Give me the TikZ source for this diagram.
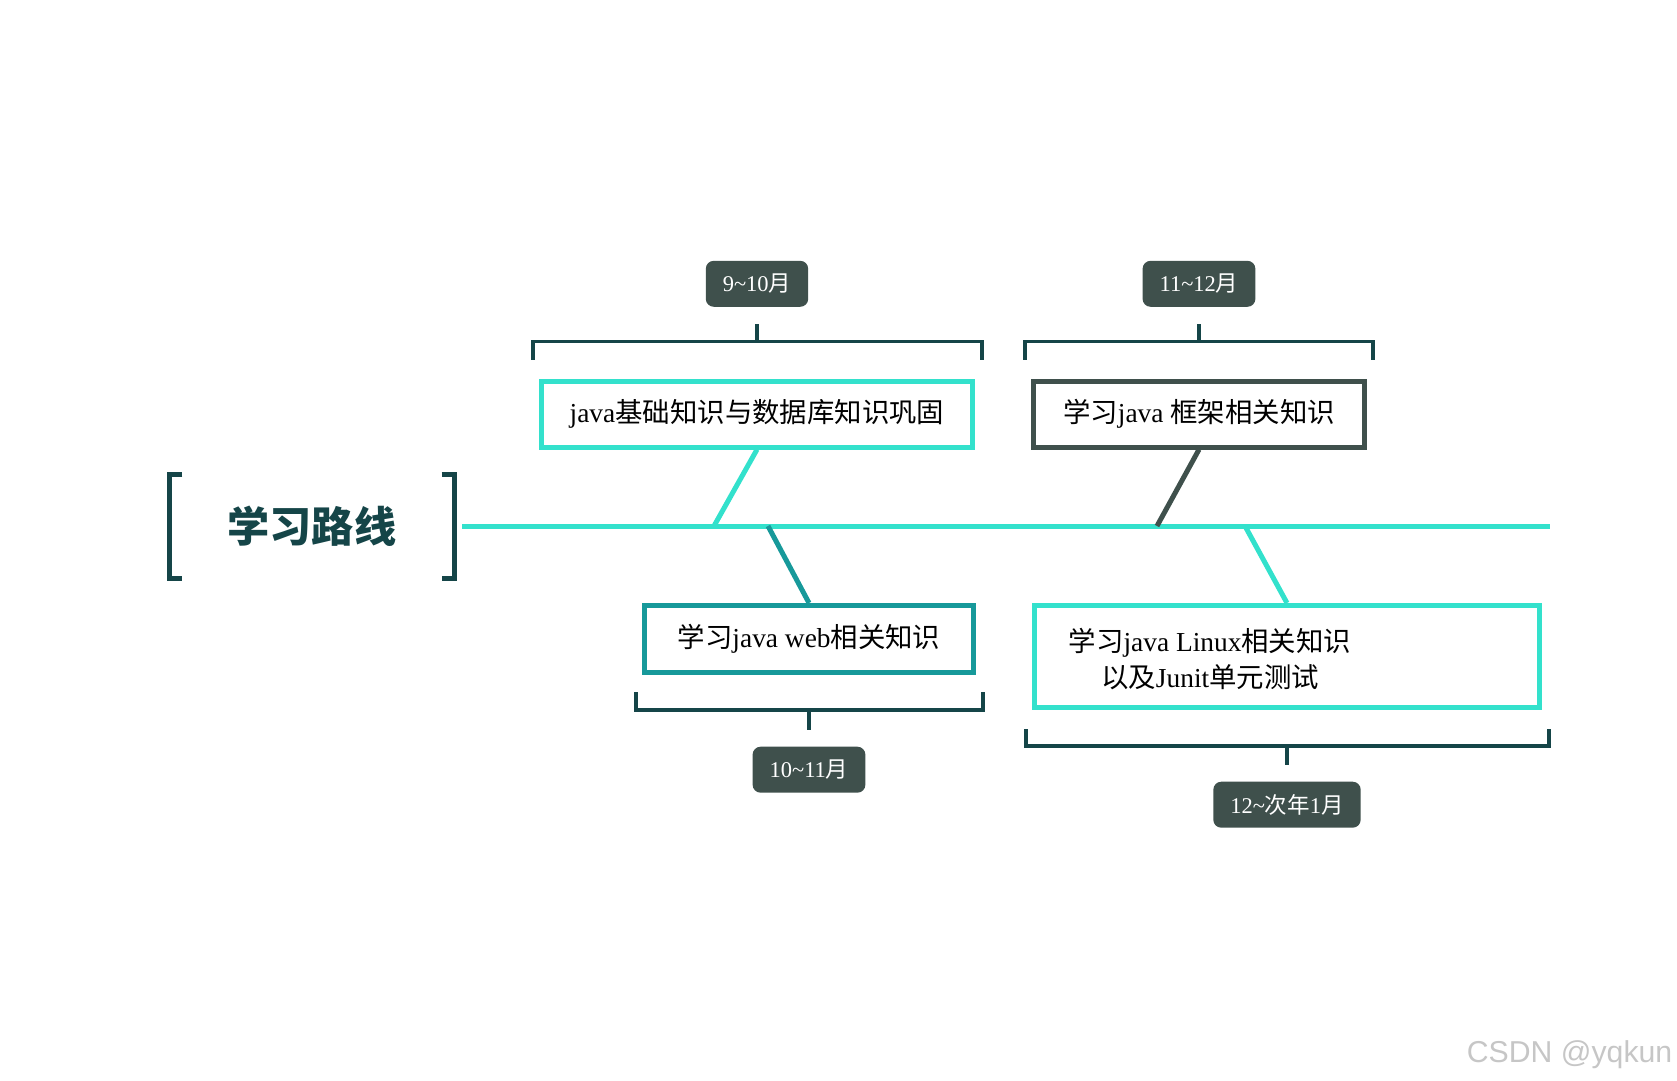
\documentclass[tikz,border=0pt]{standalone}
\usepackage{fontspec}
\setmainfont{Liberation Serif}
\newfontfamily\zhfont{Noto Sans CJK SC}
\newfontfamily\wmfont{Liberation Sans}
\newcommand{\zh}[1]{{\zhfont #1}}
\usetikzlibrary{positioning, calc}
\definecolor{aqua}{HTML}{33E1CC}
\definecolor{deepteal}{HTML}{17999A}
\definecolor{slate}{HTML}{3F504C}
\definecolor{inkteal}{HTML}{154548}

\begin{document}
\begin{tikzpicture}[
        x=0.1mm, y=-0.1mm,
        node distance=7.1mm,
        box/.style={rectangle, draw=aqua, line width=0.5mm, fill=white,
                    minimum height=6.6mm, inner sep=0pt, align=center,
                    font=\fontsize{7.8pt}{10.2pt}\selectfont},
        pill/.style={rectangle, fill=slate, text=white, rounded corners=0.8mm,
                     minimum height=4.6mm, inner xsep=1.7mm,
                     font=\fontsize{6.4pt}{7pt}\selectfont},
        bracket/.style={draw=inkteal, line width=0.32mm},
        spine/.style={draw=aqua, line width=0.5mm},
        link/.style={line width=0.5mm}
      ]
        \useasboundingbox (0,0) rectangle (1677,1081);

        \node[minimum width=28.4mm, minimum height=10.3mm, text=inkteal,
              font=\zhfont\bfseries\fontsize{12pt}{14pt}\selectfont] (title) at (312,526.5) {学习路线};
        \draw[bracket, line width=0.45mm] ([shift={(13,0)}]title.north west) -| (title.south west) -- ++(13,0);
        \draw[bracket, line width=0.45mm] ([shift={(-13,0)}]title.north east) -| (title.south east) -- ++(-13,0);

        \coordinate (spine start) at (462,526);
        \coordinate (spine end) at (1550,526);
        \coordinate (j1) at (714,526);
        \coordinate (j2) at (1157,526);
        \coordinate (j3) at (768,526);
        \coordinate (j4) at (1245,526);
        \draw[spine] (spine start) -- (spine end);

        \node[box, minimum width=43.1mm] (basics) at (757,414) {java\zh{基础知识与数据库知识巩固}};
        \node[box, draw=slate, minimum width=33.1mm] (frame) at (1199,414) {\zh{学习}java \zh{框架相关知识}};
        \node[box, draw=deepteal, minimum width=32.9mm, minimum height=6.7mm] (web) at (809,639) {\zh{学习}java web\zh{相关知识}};
        \node[box, minimum width=50.5mm, minimum height=10.2mm] (linux) at (1287,656.5) {};
        \node[align=center, inner sep=0pt, font=\fontsize{7.8pt}{10.2pt}\selectfont] (linuxtext) at (1210,659)
              {\zh{学习}java Linux\zh{相关知识}\\\zh{以及}Junit\zh{单元测试}};

        \draw[link, aqua] (basics.south) -- (j1);
        \draw[link, slate] (frame.south) -- (j2);
        \draw[link, deepteal] (j3) -- (web.north);
        \draw[link, aqua] (j4) -- (linux.north);

        \node[pill, above=of basics] (sep) {9\textasciitilde10\zh{月}};
        \node[pill, above=of frame] (nov) {11\textasciitilde12\zh{月}};
        \node[pill, below=of web] (oct) {10\textasciitilde11\zh{月}};
        \node[pill, below=of linux] (dec) {12\textasciitilde\zh{次年}1\zh{月}};

        \draw[bracket] ([shift={(-6,-19)}]basics.north west) -- ++(0,-18) -| ([shift={(7,-19)}]basics.north east);
        \draw[bracket] ([shift={(0,-37)}]basics.north) -- ([shift={(0,16)}]sep.south);
        \draw[bracket] ([shift={(-6,-19)}]frame.north west) -- ++(0,-18) -| ([shift={(6,-19)}]frame.north east);
        \draw[bracket] ([shift={(0,-37)}]frame.north) -- ([shift={(0,16)}]nov.south);
        \draw[bracket] ([shift={(-6,17)}]web.south west) -- ++(0,18) -| ([shift={(7,17)}]web.south east);
        \draw[bracket] ([shift={(0,35)}]web.south) -- ([shift={(0,-16)}]oct.north);
        \draw[bracket] ([shift={(-6,19)}]linux.south west) -- ++(0,17) -| ([shift={(7,19)}]linux.south east);
        \draw[bracket] ([shift={(0,36)}]linux.south) -- ([shift={(0,-16)}]dec.north);

        \node[anchor=east, inner sep=0pt, text=gray!45,
              font=\wmfont\fontsize{8.6pt}{10pt}\selectfont] (mark) at (1673,1055) {CSDN @yqkun};
      \end{tikzpicture}
\end{document}
